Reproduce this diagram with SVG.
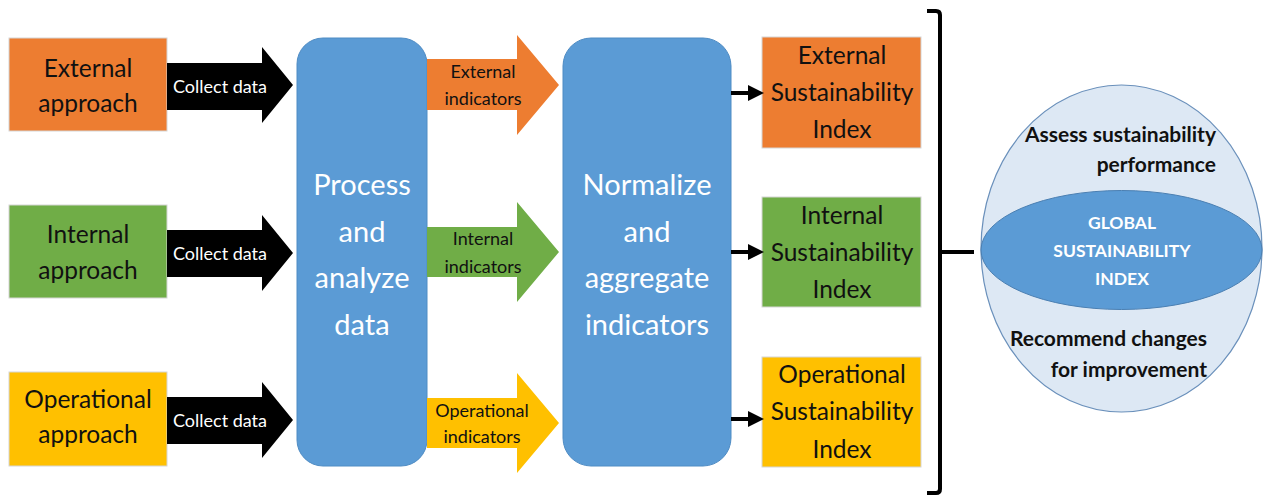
<svg xmlns="http://www.w3.org/2000/svg" width="1264" height="497" viewBox="0 0 1264 497">
  <defs>
    <style>
      text { font-family: "Lato", "Liberation Sans", sans-serif; text-anchor: middle; }
      .box { stroke: #d6d6d6; stroke-width: 1; }
      .orange { fill: #ED7D31; }
      .green { fill: #70AD47; }
      .gold { fill: #FFC000; }
      .step { fill: #5B9BD5; stroke: #4f8cc4; stroke-width: 1; }
      .lbl { font-size: 24.5px; fill: #111; }
      .big { font-size: 29px; fill: #fff; }
      .idx { font-size: 24.5px; fill: #111; }
      .collect { font-size: 18px; fill: #fff; }
      .ind { font-size: 18px; fill: #111; }
      .blk { fill: #000; }
      .link { stroke: #000; stroke-width: 4; fill: none; }
      .brace { stroke: #000; stroke-width: 4; fill: none; stroke-linejoin: round; }
      .note { font-size: 21px; font-weight: bold; fill: #111; text-anchor: end; }
      .gsi { font-size: 17.5px; font-weight: bold; fill: #fff; }
    </style>
    <marker id="head" markerWidth="4" markerHeight="4" refX="0" refY="2" orient="auto" markerUnits="strokeWidth">
      <path d="M0,0 L4,2 L0,4 Z" fill="#000"/>
    </marker>
  </defs>

  <!-- approach boxes -->
  <g id="external-approach">
    <rect class="box orange" x="9" y="38" width="158" height="93"/>
    <text class="lbl" x="88" y="77">External</text>
    <text class="lbl" x="88" y="112">approach</text>
  </g>
  <g id="internal-approach">
    <rect class="box green" x="9" y="205" width="158" height="93"/>
    <text class="lbl" x="88" y="243">Internal</text>
    <text class="lbl" x="88" y="279">approach</text>
  </g>
  <g id="operational-approach">
    <rect class="box gold" x="9" y="372" width="158" height="94"/>
    <text class="lbl" x="88" y="408">Operational</text>
    <text class="lbl" x="88" y="443">approach</text>
  </g>

  <!-- processing stages -->
  <g id="process-analyze">
    <rect class="step" x="297" y="38" width="130" height="428" rx="26" ry="26"/>
    <text class="big" x="362" y="195">Process</text>
    <text class="big" x="362" y="242">and</text>
    <text class="big" x="362" y="288">analyze</text>
    <text class="big" x="362" y="335">data</text>
  </g>
  <g id="normalize-aggregate">
    <rect class="step" x="563" y="38" width="168" height="428" rx="28" ry="28"/>
    <text class="big" x="647" y="195">Normalize</text>
    <text class="big" x="647" y="242">and</text>
    <text class="big" x="647" y="288">aggregate</text>
    <text class="big" x="647" y="335">indicators</text>
  </g>

  <!-- sustainability indices -->
  <g id="external-index">
    <rect class="box orange" x="762" y="37" width="159" height="111"/>
    <text class="idx" x="842" y="64">External</text>
    <text class="idx" x="842" y="101">Sustainability</text>
    <text class="idx" x="842" y="138">Index</text>
  </g>
  <g id="internal-index">
    <rect class="box green" x="762" y="197" width="159" height="110"/>
    <text class="idx" x="842" y="224">Internal</text>
    <text class="idx" x="842" y="261">Sustainability</text>
    <text class="idx" x="842" y="298">Index</text>
  </g>
  <g id="operational-index">
    <rect class="box gold" x="762" y="357" width="159" height="110"/>
    <text class="idx" x="842" y="383">Operational</text>
    <text class="idx" x="842" y="420">Sustainability</text>
    <text class="idx" x="842" y="458">Index</text>
  </g>

  <!-- global index globe -->
  <g id="global-index">
    <ellipse cx="1121.5" cy="248.5" rx="140.5" ry="163.5" fill="#DDE8F4" stroke="#6a90bb" stroke-width="1.2"/>
    <ellipse cx="1121.5" cy="250" rx="140.5" ry="59.5" fill="#5B9BD5" stroke="#4a7fb2" stroke-width="1"/>
    <text class="note" x="1216" y="142">Assess sustainability</text>
    <text class="note" x="1216" y="172">performance</text>
    <text class="gsi" x="1122" y="229">GLOBAL</text>
    <text class="gsi" x="1122" y="257">SUSTAINABILITY</text>
    <text class="gsi" x="1122" y="285">INDEX</text>
    <text class="note" x="1207" y="346">Recommend changes</text>
    <text class="note" x="1207" y="377">for improvement</text>
  </g>

  <!-- connectors -->
  <g id="connectors">
    <!-- collect data block arrows -->
    <polygon class="blk" points="167,63 262,63 262,47 293,85 262,123 262,110 167,110"/>
    <text class="collect" x="220" y="93">Collect data</text>
    <polygon class="blk" points="167,230 262,230 262,215 293,253 262,291 262,277 167,277"/>
    <text class="collect" x="220" y="260">Collect data</text>
    <polygon class="blk" points="167,397 262,397 262,382 293,420 262,458 262,444 167,444"/>
    <text class="collect" x="220" y="427">Collect data</text>

    <!-- indicator block arrows -->
    <polygon class="orange" points="427,59 517,59 517,35 559,85 517,135 517,110 427,110"/>
    <text class="ind" x="483" y="78">External</text>
    <text class="ind" x="483" y="105">indicators</text>
    <polygon class="green" points="427,227 517,227 517,202 559,252 517,302 517,277 427,277"/>
    <text class="ind" x="483" y="245">Internal</text>
    <text class="ind" x="483" y="273">indicators</text>
    <polygon class="gold" points="427,398 517,398 517,373 559,423 517,473 517,448 427,448"/>
    <text class="ind" x="482" y="417">Operational</text>
    <text class="ind" x="482" y="443">indicators</text>

    <!-- stage to index arrows -->
    <line class="link" x1="731" y1="93" x2="748" y2="93" marker-end="url(#head)"/>
    <line class="link" x1="731" y1="252" x2="748" y2="252" marker-end="url(#head)"/>
    <line class="link" x1="731" y1="419" x2="748" y2="419" marker-end="url(#head)"/>

    <!-- bracket gathering the indices -->
    <path class="brace" d="M927,11 L936,11 Q940,11 940,15 L940,489 Q940,493 936,493 L927,493"/>
    <line class="link" x1="940" y1="252" x2="974" y2="252"/>
  </g>
</svg>
